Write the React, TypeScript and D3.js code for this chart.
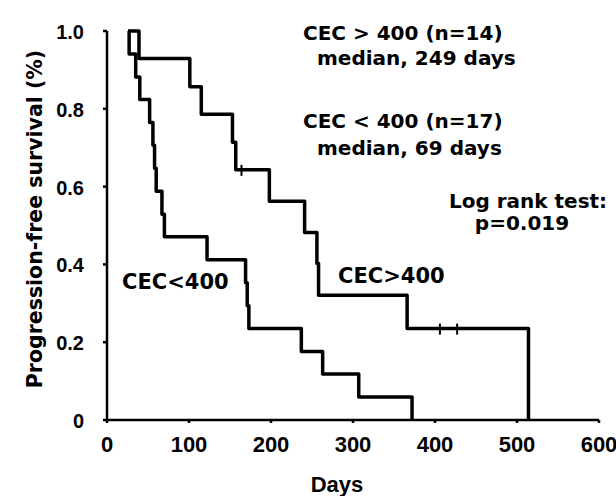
import React from "react";
import * as d3 from "d3";

// ---- data ----
const xTicks = [0, 100, 200, 300, 400, 500, 600];
const yTicks = [0, 0.2, 0.4, 0.6, 0.8, 1.0];
const yTickLabels = ["0", "0.2", "0.4", "0.6", "0.8", "1.0"];

const curveStart = 26;

// CEC < 400 (n=17)
const lowEventDays = [27, 35, 40, 52, 56, 58, 60, 67, 70, 122, 169, 171, 173, 237, 263, 307, 372];
const lowSurv = [0.941, 0.882, 0.824, 0.765, 0.706, 0.647, 0.588, 0.529, 0.471, 0.412, 0.353, 0.294, 0.235, 0.176, 0.118, 0.059, 0];

// CEC > 400 (n=14)
const highEventDays = [39, 101, 115, 153, 157, 198, 241, 256, 258, 366, 514];
const highSurv = [0.929, 0.857, 0.786, 0.714, 0.643, 0.5625, 0.482, 0.402, 0.321, 0.235, 0];
const highCensorDays = [164, 406, 427];
const highCensorSurv = [0.643, 0.235, 0.235];

const W = 616;
const H = 496;

export default function App() {
  const x = d3.scaleLinear().domain([0, 600]).range([107, 599]);
  const y = d3.scaleLinear().domain([0, 1]).range([420, 31]);

  const line = d3
    .line<[number, number]>()
    .x((d) => x(d[0]))
    .y((d) => y(d[1]))
    .curve(d3.curveStepAfter);

  const lowPts: [number, number][] = [[curveStart, 1], ...lowEventDays.map((d, i) => [d, lowSurv[i]] as [number, number])];
  const highPts: [number, number][] = [[curveStart, 1], ...highEventDays.map((d, i) => [d, highSurv[i]] as [number, number])];

  const tickFont = "'Liberation Sans', Arial, Helvetica, sans-serif";
  const annFont = "'DejaVu Sans', sans-serif";

  return (
    <svg
      width={W}
      height={H}
      viewBox={`0 0 ${W} ${H}`}
      style={{ position: "absolute", left: 0, top: 0, background: "#fff" }}
    >
      <rect x={0} y={0} width={W} height={H} fill="#fff" />
      {/* axes */}
      <line x1={x(0)} x2={x(0)} y1={y(1)} y2={y(0)} stroke="#000" strokeWidth={2.5} />
      <line x1={x(0)} x2={x(600)} y1={y(0)} y2={y(0)} stroke="#000" strokeWidth={2.5} />
      {yTicks.map((t) => (
        <line key={"yt" + t} x1={x(0) - 4} x2={x(0)} y1={y(t)} y2={y(t)} stroke="#000" strokeWidth={2.5} />
      ))}
      {xTicks.map((t) => (
        <line key={"xt" + t} x1={x(t)} x2={x(t)} y1={y(0)} y2={y(0) + 3} stroke="#000" strokeWidth={2.5} />
      ))}
      {/* tick labels */}
      {yTicks.map((t, i) => (
        <text
          key={"yl" + t}
          x={84}
          y={y(t) + 8}
          textAnchor="end"
          fontFamily={tickFont}
          fontWeight="bold"
          fontSize={20}
          fill="#000"
        >
          {yTickLabels[i]}
        </text>
      ))}
      {xTicks.map((t) => (
        <text
          key={"xl" + t}
          x={x(t)}
          y={452}
          textAnchor="middle"
          fontFamily={tickFont}
          fontWeight="bold"
          fontSize={22}
          fill="#000"
        >
          {t}
        </text>
      ))}
      {/* axis titles */}
      <text x={337} y={492} textAnchor="middle" fontFamily={tickFont} fontWeight="bold" fontSize={22} fill="#000">
        Days
      </text>
      <text
        transform="translate(42,219) rotate(-90)"
        textAnchor="middle"
        fontFamily={annFont}
        fontWeight="bold"
        fontSize={20.5}
        fill="#000"
      >
        Progression-free survival (%)
      </text>

      {/* curves */}
      <path d={line(lowPts) || ""} fill="none" stroke="#000" strokeWidth={3.5} strokeLinejoin="round" />
      <path d={line(highPts) || ""} fill="none" stroke="#000" strokeWidth={3.5} strokeLinejoin="round" />
      {highCensorDays.map((d, i) => (
        <line
          key={"c" + d}
          x1={x(d)}
          x2={x(d)}
          y1={y(highCensorSurv[i]) - 5}
          y2={y(highCensorSurv[i]) + 6}
          stroke="#000"
          strokeWidth={2}
        />
      ))}

      {/* annotations */}
      <g fontFamily={annFont} fontWeight="bold" fontSize={20} fill="#000">
        <text x={303} y={40}>CEC &gt; 400 (n=14)</text>
        <text x={317} y={65}>median, 249 days</text>
        <text x={303} y={128}>CEC &lt; 400 (n=17)</text>
        <text x={317} y={155}>median, 69 days</text>
        <text x={528} y={208} textAnchor="middle">Log rank test:</text>
        <text x={522} y={230} textAnchor="middle">p=0.019</text>
        <text x={122} y={289} fontSize={21}>CEC&lt;400</text>
        <text x={338} y={283} fontSize={21}>CEC&gt;400</text>
      </g>
    </svg>
  );
}
